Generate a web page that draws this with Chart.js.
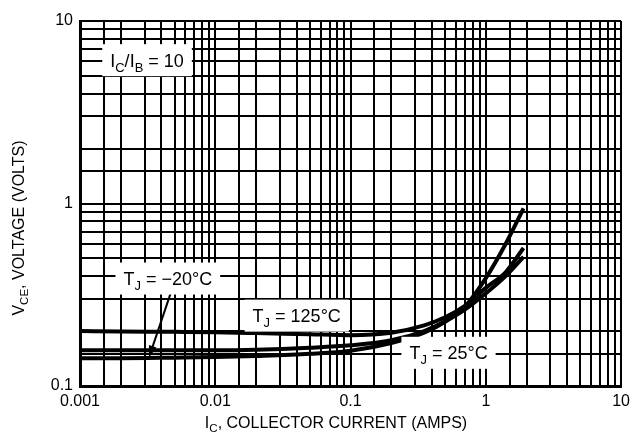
<!DOCTYPE html>
<html><head><meta charset="utf-8">
<script src="https://cdn.jsdelivr.net/npm/chart.js@4/dist/chart.umd.min.js"></script>
<style>html,body{margin:0;padding:0;background:#fff;}#wrap{width:636px;height:442px;position:relative;}</style>
</head><body><div id="wrap"><canvas id="c"></canvas></div>
<script>
// ---- data ----
const currentAmps = [0.001, 0.002, 0.005, 0.01, 0.02, 0.05, 0.1, 0.2, 0.35, 0.5, 0.7, 1.0, 1.4, 1.9];
const vce125C   = [0.200, 0.199, 0.198, 0.197, 0.195, 0.192, 0.190, 0.196, 0.215, 0.238, 0.275, 0.345, 0.420, 0.570];
const vce25C    = [0.157, 0.157, 0.157, 0.157, 0.158, 0.162, 0.167, 0.178, 0.200, 0.226, 0.262, 0.322, 0.400, 0.510];
const vceMinus20C = [0.142, 0.142, 0.143, 0.144, 0.146, 0.150, 0.156, 0.172, 0.196, 0.225, 0.272, 0.390, 0.600, 0.940];
const xTickLabels = ['0.001', '0.01', '0.1', '1', '10'];
const yTickLabels = ['0.1', '1', '10'];
const xDecades = [0.001, 0.01, 0.1, 1];
const yDecades = [0.1, 1];
const gridMultipliers = [1, 1.5, 2, 3, 4, 5, 6, 7, 8, 9];

function gridValues(decades, top) {
  const out = [];
  decades.forEach(d => gridMultipliers.forEach(m => out.push(+(d * m).toPrecision(6))));
  out.push(top);
  return out;
}
const xGrid = gridValues(xDecades, 10);
const yGrid = gridValues(yDecades, 10);

function labelFor(list, v) {
  const hit = list.find(s => Math.abs(parseFloat(s) - v) < 1e-9 * Math.max(1, v));
  return hit === undefined ? '' : hit;
}

const FONT = '"Liberation Sans", Arial, Helvetica, sans-serif';

// annotations (positions in data units)
const notes = [
  { parts: [['I'], ['C', 1], ['/I'], ['B', 1], [' = 10']], x: 0.00313, y: 6.1 },
  { parts: [['T'], ['J', 1], [' = \u221220\u00b0C']], x: 0.00446, y: 0.388 },
  { parts: [['T'], ['J', 1], [' = 125\u00b0C']], x: 0.040, y: 0.243 },
  { parts: [['T'], ['J', 1], [' = 25\u00b0C']], x: 0.53, y: 0.152 }
];
const arrowFrom = { x: 0.00477, y: 0.336 };
const arrowTo = { x: 0.00323, y: 0.143 };

function richWidth(ctx, parts, size) {
  let w = 0;
  parts.forEach(p => {
    ctx.font = (p[1] ? size * 0.72 : size) + 'px ' + FONT;
    w += ctx.measureText(p[0]).width;
  });
  return w;
}
function drawRich(ctx, parts, cx, cy, size) {
  const w = richWidth(ctx, parts, size);
  let x = cx - w / 2;
  const base = cy + size * 0.36;
  ctx.textAlign = 'left';
  ctx.textBaseline = 'alphabetic';
  ctx.fillStyle = '#000';
  parts.forEach(p => {
    const s = p[1] ? size * 0.72 : size;
    ctx.font = s + 'px ' + FONT;
    ctx.fillText(p[0], x, p[1] ? base + size * 0.28 : base);
    x += ctx.measureText(p[0]).width;
  });
  return w;
}

const annotPlugin = {
  id: 'annot',
  afterDatasetsDraw(chart) {
    const ctx = chart.ctx, xs = chart.scales.x, ys = chart.scales.y;
    ctx.save();
    // arrow
    const x1 = xs.getPixelForValue(arrowFrom.x), y1 = ys.getPixelForValue(arrowFrom.y);
    const x2 = xs.getPixelForValue(arrowTo.x), y2 = ys.getPixelForValue(arrowTo.y);
    const ang = Math.atan2(y2 - y1, x2 - x1);
    const L = 12, W = 4;
    ctx.strokeStyle = '#000'; ctx.lineWidth = 2;
    ctx.beginPath(); ctx.moveTo(x1, y1);
    ctx.lineTo(x2 - Math.cos(ang) * L * 0.8, y2 - Math.sin(ang) * L * 0.8); ctx.stroke();
    ctx.fillStyle = '#000';
    ctx.beginPath();
    ctx.moveTo(x2, y2);
    ctx.lineTo(x2 - Math.cos(ang) * L + Math.sin(ang) * W, y2 - Math.sin(ang) * L - Math.cos(ang) * W);
    ctx.lineTo(x2 - Math.cos(ang) * L - Math.sin(ang) * W, y2 - Math.sin(ang) * L + Math.cos(ang) * W);
    ctx.closePath(); ctx.fill();
    // label boxes
    const size = 18;
    notes.forEach(n => {
      const cx = xs.getPixelForValue(n.x), cy = ys.getPixelForValue(n.y);
      const w = richWidth(ctx, n.parts, size);
      ctx.fillStyle = '#fff';
      ctx.fillRect(cx - w / 2 - 8, cy - 16, w + 16, 32);
      drawRich(ctx, n.parts, cx, cy, size);
    });
    ctx.restore();
  },
  afterDraw(chart) {
    const ctx = chart.ctx;
    ctx.save();
    drawRich(ctx, [['I'], ['C', 1], [', COLLECTOR CURRENT (AMPS)']], 336, 422, 16);
    ctx.translate(18, 228);
    ctx.rotate(-Math.PI / 2);
    drawRich(ctx, [['V'], ['CE', 1], [', VOLTAGE (VOLTS)']], 0, 0, 16);
    ctx.restore();
  }
};

const lineStyle = { borderColor: '#000', backgroundColor: '#000', borderWidth: 4, pointRadius: 0, fill: false, cubicInterpolationMode: 'monotone' };
const toPts = ys => currentAmps.map((x, i) => ({ x, y: ys[i] }));

new Chart(document.getElementById('c'), {
  type: 'line',
  data: {
    datasets: [
      Object.assign({ label: 'TJ = 125°C', data: toPts(vce125C) }, lineStyle),
      Object.assign({ label: 'TJ = 25°C', data: toPts(vce25C) }, lineStyle),
      Object.assign({ label: 'TJ = −20°C', data: toPts(vceMinus20C) }, lineStyle)
    ]
  },
  options: {
    responsive: true,
    maintainAspectRatio: false,
    animation: false,
    layout: { padding: { left: 0, right: 10, top: 21, bottom: 0 } },
    plugins: { legend: { display: false }, tooltip: { enabled: false } },
    scales: {
      x: {
        type: 'logarithmic', min: 0.001, max: 10,
        afterBuildTicks: s => { s.ticks = xGrid.map(v => ({ value: v })); },
        afterFit: s => { s.height = 56; },
        grid: { color: '#000', lineWidth: 2, drawTicks: false },
        border: { color: '#000', width: 3 },
        ticks: { autoSkip: false, maxRotation: 0, padding: 6, color: '#000',
          font: { family: FONT, size: 16 }, callback: v => labelFor(xTickLabels, v) }
      },
      y: {
        type: 'logarithmic', min: 0.1, max: 10,
        afterBuildTicks: s => { s.ticks = yGrid.map(v => ({ value: v })); },
        afterFit: s => { s.width = 80; },
        grid: { color: '#000', lineWidth: 2, drawTicks: false },
        border: { color: '#000', width: 3 },
        ticks: { autoSkip: false, padding: 7, color: '#000',
          font: { family: FONT, size: 16 }, callback: v => labelFor(yTickLabels, v) }
      }
    }
  },
  plugins: [annotPlugin]
});
</script>
</body></html>
